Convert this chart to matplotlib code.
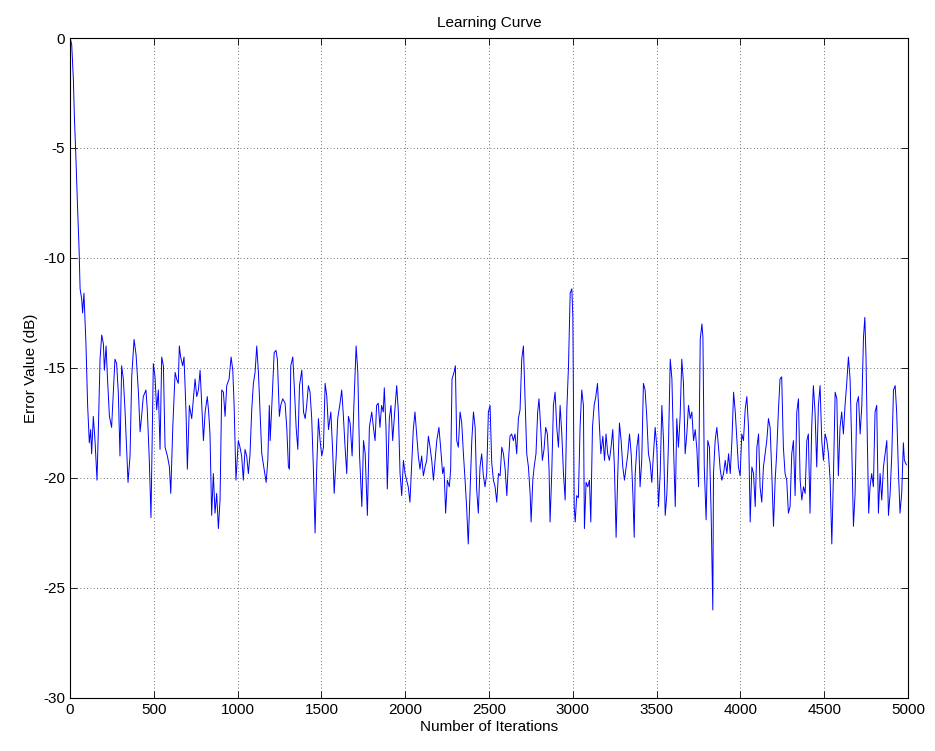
import matplotlib
matplotlib.use('Agg')
import matplotlib.pyplot as plt

plt.rcParams['font.family'] = ['Liberation Sans', 'DejaVu Sans']
plt.rcParams['axes.unicode_minus'] = False

# 학습 곡선 데이터
iterations = [
    1, 10, 20, 26, 34, 44, 54, 60, 70, 75, 83, 95, 105, 115, 123, 129, 139, 149, 161, 170,
    179, 189, 199, 205, 215, 223, 235, 248, 258, 268, 278, 288, 298, 308, 318, 328, 346, 358,
    368, 382, 394, 408, 418, 427, 437, 453, 461, 473, 483, 497, 507, 517, 527, 537, 547, 557,
    567, 581, 593, 601, 613, 627, 636, 646, 652, 660, 672, 680, 692, 700, 712, 726, 736, 746,
    756, 766, 776, 786, 796, 806, 819, 827, 835, 845, 855, 865, 875, 885, 895, 905, 915, 925,
    935, 949, 961, 971, 979, 990, 1004, 1014, 1024, 1034, 1044, 1054, 1064, 1074, 1084, 1094,
    1104, 1114, 1124, 1134, 1144, 1158, 1170, 1180, 1189,
    1194, 1204, 1218, 1229, 1237, 1249, 1257, 1269, 1283, 1293, 1303, 1309, 1317, 1329, 1339,
    1349, 1359, 1369, 1383, 1393, 1403, 1412, 1422, 1432, 1442, 1452, 1462, 1472, 1482, 1492,
    1502, 1512, 1522, 1532, 1542, 1556, 1566, 1576, 1588, 1597, 1611, 1621, 1631, 1641, 1651,
    1661, 1671, 1683, 1695, 1707, 1717, 1727, 1741, 1751, 1761, 1774,
    1786, 1800, 1810, 1820, 1829, 1839, 1849, 1859, 1869, 1875, 1885, 1893, 1905, 1915, 1925,
    1937, 1949, 1959, 1969, 1979, 1989, 1999, 2008, 2018, 2028, 2038, 2048, 2058, 2068, 2078,
    2088, 2098, 2108, 2118, 2128, 2138, 2148, 2158, 2168, 2178, 2188, 2201, 2211, 2223, 2231,
    2241, 2251, 2263, 2271, 2279, 2291, 2299, 2307, 2317, 2327, 2337, 2347, 2357, 2366, 2376,
    2386, 2397, 2407, 2417, 2426, 2436, 2446, 2456, 2466, 2476, 2486, 2496, 2506, 2516, 2526,
    2536, 2546, 2556, 2566, 2576, 2586, 2596, 2606, 2616, 2625, 2635, 2645, 2655, 2665, 2675,
    2685, 2695, 2705, 2715, 2725, 2735, 2745, 2751, 2761, 2769, 2780, 2790, 2798, 2808, 2818,
    2828, 2838, 2848, 2858, 2864, 2874, 2884, 2894, 2904, 2914, 2924, 2934, 2944, 2954, 2964,
    2974, 2984, 2994, 3000, 3008, 3014, 3023, 3033, 3043, 3053, 3063, 3069, 3079, 3089, 3099,
    3107, 3117, 3127, 3137, 3147, 3159, 3167, 3179, 3189, 3198, 3208, 3218, 3228, 3238, 3248,
    3258, 3268, 3278, 3288, 3298, 3308, 3318, 3328, 3338, 3348, 3358, 3366, 3372, 3382, 3392,
    3401, 3411, 3421, 3431, 3441, 3451, 3461, 3471, 3481, 3491, 3501, 3511, 3521,
    3531, 3541, 3551, 3561, 3571, 3581, 3591, 3601, 3611, 3620, 3630, 3640, 3650, 3660, 3670,
    3680, 3690, 3700, 3710, 3720, 3730, 3740, 3750, 3760, 3770, 3776, 3784, 3795, 3805, 3815,
    3825, 3835, 3839, 3849, 3859, 3869, 3879, 3889, 3899, 3909, 3919, 3929, 3939, 3949, 3959,
    3969, 3979, 3988, 3998, 4008, 4018, 4028, 4038, 4048, 4058, 4068, 4078, 4088, 4098, 4108,
    4117, 4127, 4137, 4147, 4157, 4167, 4177, 4187, 4197, 4207, 4216, 4226, 4236, 4246, 4256,
    4266, 4276, 4286, 4296, 4306, 4316, 4326, 4336, 4346, 4356, 4366, 4376, 4386, 4396, 4405,
    4415, 4425, 4435, 4445, 4455, 4465, 4475, 4485, 4495, 4505, 4515, 4525, 4535, 4545, 4555,
    4565, 4575, 4584, 4594, 4604, 4614, 4624, 4634, 4644, 4654,
    4664, 4674, 4684, 4694, 4704, 4714, 4724, 4734, 4742, 4749, 4757, 4765, 4773, 4783, 4793,
    4803, 4813, 4823, 4833, 4843, 4853, 4863, 4873, 4883, 4893, 4903, 4913, 4923, 4932, 4942,
    4952, 4962, 4972, 4978, 4990,
]

error_db = [
    0.0, -0.3, -1.9, -3.6, -5.2, -7.5, -9.6, -11.4, -11.9, -12.5, -11.6, -13.9, -16.7, -18.4, -17.8, -18.9, -17.2, -18.3, -20.1, -17.5,
    -14.6, -13.5, -13.9, -15.1, -14.0, -15.4, -17.2, -17.7, -16.1, -14.6, -14.8, -16.1, -19.0, -14.9, -15.5, -16.9, -20.2, -19.0,
    -15.4, -13.7, -14.4, -16.1, -17.9, -17.2, -16.3, -16.0, -16.9, -19.2, -21.8, -14.8, -15.4, -16.9, -16.0, -18.7, -14.5, -14.9,
    -18.6, -19.0, -19.5, -20.7, -17.7, -15.2, -15.5, -15.7, -14.0, -14.5, -14.9, -14.5, -17.0, -19.6, -16.7, -17.3, -16.4, -15.5,
    -16.3, -16.0, -15.1, -16.7, -18.3, -17.0, -16.3, -17.0, -18.0, -21.7, -19.8, -21.6, -20.7, -22.3, -21.0, -16.0, -16.1, -17.2,
    -15.8, -15.5, -14.5, -15.1, -16.7, -20.1, -18.3, -18.6, -19.0, -20.1, -18.7, -19.0, -19.8, -18.9, -16.9, -15.7,
    -15.2, -14.0, -15.2, -17.0, -18.9, -19.6, -20.2, -19.2, -16.7,
    -18.3, -16.7, -14.3, -14.2, -14.6, -17.2, -16.7, -16.4, -16.6, -17.7, -19.5, -19.6, -14.9, -14.5, -16.0,
    -17.7, -18.7, -15.8, -15.1, -17.0, -17.3, -16.7, -15.8, -16.1, -17.3, -19.6, -22.5, -19.5, -17.3, -18.3,
    -19.0, -18.6, -15.7, -16.3, -17.8, -17.0, -18.6, -20.7, -19.0, -17.3, -16.6, -16.0, -17.2, -18.6, -19.8,
    -17.2, -17.5, -19.0, -16.4, -14.0, -15.2, -18.9, -21.3, -18.3, -18.9, -21.7,
    -17.7, -17.0, -17.7, -18.3, -16.7, -16.6, -17.7, -16.7, -17.0, -15.9, -17.7, -20.5, -17.3, -16.7, -18.3,
    -17.0, -15.8, -17.0, -19.8, -20.8, -19.2, -19.8, -20.1, -20.4, -21.1, -19.5, -17.8, -17.0, -18.0, -19.0,
    -19.6, -19.0, -19.9, -19.5, -19.2, -18.1, -18.6, -19.2, -20.1, -19.2, -18.3, -17.7, -18.6, -19.8, -19.5,
    -21.6, -20.1, -20.4, -19.6, -15.5, -15.2, -14.9, -18.3, -18.6, -17.0, -17.5, -18.9, -20.1, -21.3, -23.0,
    -20.8, -18.3, -17.0, -17.7, -20.5, -21.6, -19.5, -18.9, -19.9, -20.4, -19.8, -17.0, -16.7, -19.3, -20.1,
    -20.4, -21.1, -19.8, -19.9, -18.6, -18.9, -19.6, -20.8, -19.2, -18.1, -18.0, -18.3, -18.0, -18.9, -17.3,
    -16.9, -14.6, -14.0, -16.4, -18.9, -19.5, -20.7, -22.0, -20.1, -19.5, -18.9, -17.0, -16.4, -17.7, -19.2,
    -18.7, -17.7, -18.0, -19.6, -22.0, -19.8, -16.7, -16.1, -17.7, -18.6, -16.7, -18.0, -19.8, -21.0, -16.9,
    -14.9, -11.6, -11.4, -12.7, -21.3, -22.0, -20.8, -20.9, -17.7, -16.0, -16.7, -22.3, -20.2, -20.4, -20.1,
    -22.0, -17.7, -16.7, -16.3, -15.7, -17.7, -18.9, -18.1, -19.2, -18.0, -18.9, -19.2, -18.6, -17.8, -19.5,
    -22.7, -19.8, -17.5, -18.3, -19.5, -20.1, -19.5, -18.9, -18.0, -18.9, -20.7, -22.7, -19.8, -18.6, -18.0,
    -20.4, -19.2, -15.7, -16.0, -17.2, -18.9, -19.3, -20.2, -18.9, -17.7, -18.6, -21.3, -19.8,
    -16.7, -18.3, -21.7, -20.7, -18.3, -14.6, -15.5, -18.7, -21.3, -17.3, -18.6, -17.2, -14.6, -15.7, -18.9,
    -18.0, -16.7, -17.3, -17.0, -18.3, -17.8, -18.7, -20.4, -13.7, -13.0, -13.6, -19.5, -21.9, -18.3, -18.6,
    -21.6, -26.0, -19.8, -18.3, -17.7, -18.6, -19.6, -20.1, -19.8, -19.2, -19.8, -18.9, -19.8, -18.3, -16.1,
    -17.0, -18.3, -19.5, -19.9, -18.0, -18.3, -16.9, -16.3, -17.7, -22.0, -19.5, -19.8, -21.3, -18.6, -18.0,
    -20.4, -21.1, -19.5, -18.9, -18.3, -17.3, -17.7, -19.8, -22.2, -20.1, -18.9, -17.0, -15.5, -15.4, -18.6,
    -19.8, -20.1, -21.6, -21.3, -18.9, -18.3, -20.8, -17.0, -16.4, -20.1, -21.0, -20.4, -20.7, -18.3, -18.0,
    -21.6, -17.7, -15.8, -17.0, -19.5, -16.7, -15.8, -18.3, -19.2, -18.0, -18.3, -18.9, -20.1, -23.0, -19.8,
    -16.1, -16.4, -19.9, -17.7, -17.0, -18.0, -16.7, -15.7, -14.5, -15.5,
    -18.6, -22.2, -20.7, -16.6, -16.3, -18.0, -16.7, -13.6, -12.7, -14.5, -18.3, -21.6, -20.4, -19.8, -20.4,
    -17.0, -16.7, -21.6, -19.8, -21.0, -19.5, -18.9, -18.3, -21.7, -20.7, -18.9, -16.0, -15.8, -17.0, -19.6,
    -21.6, -20.7, -18.4, -19.2, -19.4,
]

# 플롯 설정
fig = plt.figure(figsize=(9.35, 7.51), dpi=100)
ax = fig.add_axes([0.0749, 0.0706, 0.8963, 0.8788])

ax.plot(iterations, error_db, color='blue', linewidth=0.7)

ax.set_xlim(0, 5000)
ax.set_ylim(-30, 0)
ax.set_xticks(range(0, 5001, 500))
ax.set_yticks(range(-30, 1, 5))
ax.tick_params(direction='in', top=True, right=True, labelsize=11, length=5, width=0.6)
ax.grid(True, linestyle=(0, (1, 3)), color='#444444', linewidth=0.6)
for spine in ax.spines.values():
    spine.set_linewidth(0.8)

ax.set_title('Learning Curve', fontsize=11, pad=8)
ax.set_xlabel('Number of Iterations', fontsize=11, labelpad=2)
ax.set_ylabel('Error Value (dB)', fontsize=11, labelpad=4)

# 저장
plt.savefig('out.png', dpi=100)
